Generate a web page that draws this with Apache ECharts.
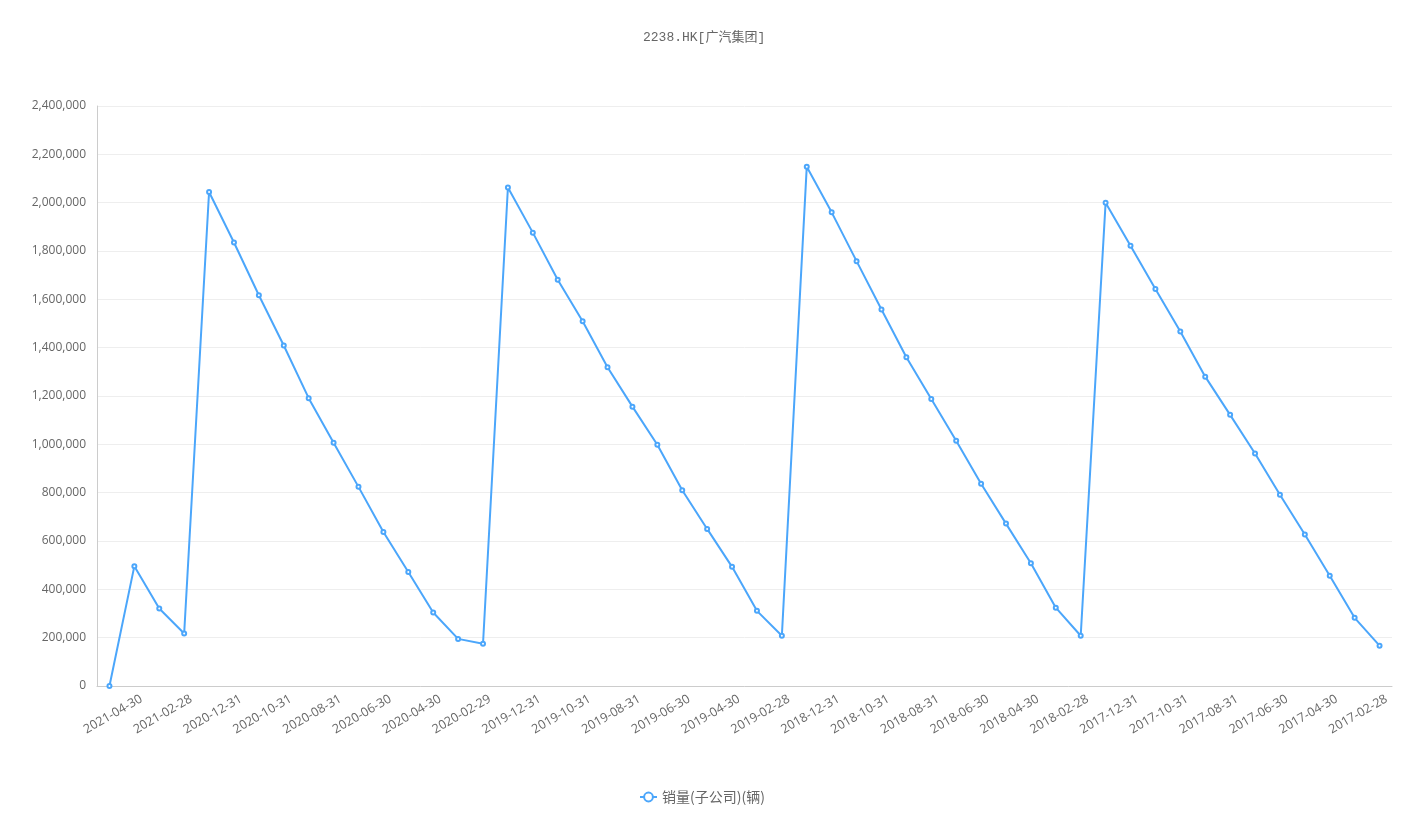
<!DOCTYPE html>
<html>
<head>
<meta charset="utf-8">
<script src="https://cdn.jsdelivr.net/npm/echarts@6/dist/echarts.min.js"></script>
<style>
html,body{margin:0;padding:0;background:#fff;}
#chart{width:1427px;height:827px;}
</style>
</head>
<body>
<div id="chart"></div>
<script>
var titleText = '2238.HK[广汽集团]';
var seriesName = '销量(子公司)(辆)';
var dates = [
  '2017-02-28','2017-03-31','2017-04-30','2017-05-31','2017-06-30','2017-07-31','2017-08-31','2017-09-30','2017-10-31','2017-11-30','2017-12-31',
  '2018-01-31','2018-02-28','2018-03-31','2018-04-30','2018-05-31','2018-06-30','2018-07-31','2018-08-31','2018-09-30','2018-10-31','2018-11-30','2018-12-31',
  '2019-01-31','2019-02-28','2019-03-31','2019-04-30','2019-05-31','2019-06-30','2019-07-31','2019-08-31','2019-09-30','2019-10-31','2019-11-30','2019-12-31',
  '2020-01-31','2020-02-29','2020-03-31','2020-04-30','2020-05-31','2020-06-30','2020-07-31','2020-08-31','2020-09-30','2020-10-31','2020-11-30','2020-12-31',
  '2021-01-31','2021-02-28','2021-03-31','2021-04-30','2021-05-31'
];
var sales = [
  167000, 282000, 456000, 627000, 791000, 962000, 1122000, 1280000, 1467000, 1643000, 1822000,
  2000000, 208000, 324000, 508000, 672000, 837000, 1015000, 1188000, 1360000, 1558000, 1758000,
  1960000, 2149000, 208000, 311000, 493000, 650000, 810000, 998000, 1156000, 1319000, 1509000,
  1681000, 1876000, 2063000, 175000, 195000, 304000, 472000, 637000, 824000, 1007000, 1191000,
  1409000, 1617000, 1835000, 2044000, 217000, 321000, 496000, 0
];
var yMax = 2400000;
var yInterval = 200000;

var chart = echarts.init(document.getElementById('chart'));
chart.setOption({
  backgroundColor: '#fff',
  animation: false,
  title: {
    text: titleText,
    left: 638,
    top: 26,
    textStyle: {
      fontFamily: '"Liberation Mono", "Noto Sans CJK SC", monospace',
      fontSize: 13,
      fontWeight: 'normal',
      color: '#666'
    }
  },
  legend: {
    bottom: 18,
    left: 634,
    data: [seriesName],
    itemWidth: 17,
    itemHeight: 11,
    itemGap: 10,
    textStyle: { color: '#666', fontSize: 14, fontFamily: '"Noto Sans CJK SC", sans-serif' }
  },
  grid: { left: 97, right: 35, top: 106, bottom: 141 },
  xAxis: {
    type: 'category',
    inverse: true,
    data: dates,
    boundaryGap: true,
    axisLine: { lineStyle: { color: '#ccc' } },
    axisTick: { show: false },
    axisLabel: {
      interval: 1,
      rotate: 30,
      margin: 16,
      padding: [0, -8, 0, 0],
      color: '#666',
      fontSize: 12.5,
      fontFamily: '"Open Sans", sans-serif'
    }
  },
  yAxis: {
    type: 'value',
    min: 0,
    max: yMax,
    interval: yInterval,
    axisLine: { show: true, lineStyle: { color: '#ccc' } },
    axisTick: { show: false },
    splitLine: { lineStyle: { color: '#eee' } },
    axisLabel: {
      margin: 11,
      color: '#666',
      fontSize: 12,
      fontFamily: '"Open Sans", sans-serif',
      formatter: function (v) { return v.toLocaleString('en-US'); }
    }
  },
  series: [{
    name: seriesName,
    type: 'line',
    data: sales,
    symbol: 'emptyCircle',
    symbolSize: 4,
    itemStyle: { color: '#4ba6fb' },
    lineStyle: { color: '#4ba6fb', width: 2 }
  }]
});
</script>
</body>
</html>
